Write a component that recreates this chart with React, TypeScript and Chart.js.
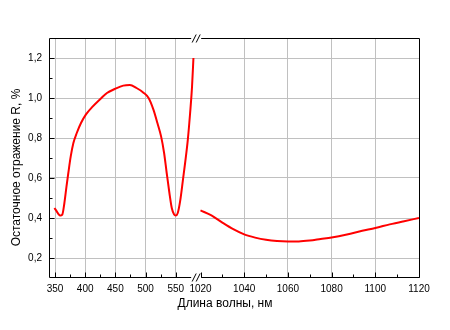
import React, { useEffect, useRef } from "react";
import { Chart, registerables } from "chart.js";

Chart.register(...registerables);

// Visible range (nm) and residual reflectance (%)
const visWavelength = [349, 352.8, 356, 358.5, 362, 365.5, 369, 372, 376, 380.4, 386, 393, 401, 411, 425, 436, 449, 463, 474, 485, 496, 505, 513, 519.6, 525.7, 530.7, 535, 539.5, 543.4, 547.3, 550, 553.3, 557.2, 561.6, 565.5, 570, 573.8, 577, 579.3];
const visReflectance = [0.45, 0.433, 0.418, 0.412, 0.417, 0.475, 0.558, 0.625, 0.708, 0.775, 0.825, 0.875, 0.917, 0.953, 0.995, 1.025, 1.045, 1.062, 1.065, 1.05, 1.028, 1.0, 0.942, 0.875, 0.808, 0.725, 0.625, 0.525, 0.45, 0.417, 0.412, 0.425, 0.483, 0.583, 0.675, 0.792, 0.925, 1.058, 1.2];

// IR range (nm) and residual reflectance (%)
const irWavelength = [1020, 1025, 1030, 1035, 1040, 1045, 1050, 1055, 1060, 1065, 1070, 1075, 1080, 1087, 1094, 1100, 1106.6, 1112.7, 1120];
const irReflectance = [0.438, 0.413, 0.377, 0.344, 0.318, 0.302, 0.291, 0.285, 0.283, 0.283, 0.287, 0.295, 0.303, 0.318, 0.336, 0.35, 0.368, 0.383, 0.4];

const xTickLabels = [350, 400, 450, 500, 550, 1020, 1040, 1060, 1080, 1100, 1120];
const xMinorTicks = [375, 425, 475, 525, 1030, 1050, 1070, 1090, 1110];
const xNoGrid = [1020, 1120];
const yTickValues = [0.2, 0.4, 0.6, 0.8, 1.0, 1.2];
const yMinorTicks = [0.3, 0.5, 0.7, 0.9, 1.1];

const X_TITLE = "Длина волны, нм";
const Y_TITLE = "Остаточное отражение R, %";

// Broken axis mapping: 340..580 nm, break, 1020..1120 nm
const LEFT_START = 340;
const LEFT_END = 580;
const RIGHT_START = 1020;
const RIGHT_END = 1120;
const RIGHT_OFFSET = 251;
const RIGHT_SCALE = 3.62;
const toAxis = (w: number) =>
  w < 800 ? w - LEFT_START : RIGHT_OFFSET + (w - RIGHT_START) * RIGHT_SCALE;

const FONT = "'Liberation Sans', Arial, sans-serif";

const framePlugin = {
  id: "frame",
  afterDraw(chart: any) {
    const { ctx, chartArea, scales } = chart;
    const x = scales.x;
    const y = scales.y;
    const L = Math.round(chartArea.left) + 0.5;
    const R = Math.round(chartArea.right) + 0.5;
    const T = Math.round(chartArea.top) + 0.5;
    const B = Math.round(chartArea.bottom) - 0.5;
    const bc =
      (x.getPixelForValue(toAxis(LEFT_END)) + x.getPixelForValue(toAxis(RIGHT_START))) / 2;
    const g0 = bc - 6;
    const g1 = bc + 4;
    ctx.save();
    ctx.strokeStyle = "#000";
    ctx.lineWidth = 1;
    ctx.beginPath();
    ctx.moveTo(L, T);
    ctx.lineTo(L, B);
    ctx.moveTo(R, T);
    ctx.lineTo(R, B);
    ctx.moveTo(L, T);
    ctx.lineTo(g0, T);
    ctx.moveTo(g1, T);
    ctx.lineTo(R, T);
    ctx.moveTo(L, B);
    ctx.lineTo(g0, B);
    ctx.moveTo(g1, B);
    ctx.lineTo(R, B);
    ctx.stroke();

    // break marks
    ctx.beginPath();
    for (const yy of [T, B]) {
      for (const c of [bc - 3, bc + 1]) {
        ctx.moveTo(c - 2, yy + 4);
        ctx.lineTo(c + 2, yy - 4);
      }
    }
    ctx.stroke();

    // inward tick marks
    ctx.beginPath();
    for (const v of xTickLabels) {
      const px = Math.round(x.getPixelForValue(toAxis(v))) + 0.5;
      ctx.moveTo(px, B);
      ctx.lineTo(px, B - 5);
    }
    for (const v of xMinorTicks) {
      const px = Math.round(x.getPixelForValue(toAxis(v))) + 0.5;
      ctx.moveTo(px, B);
      ctx.lineTo(px, B - 3);
    }
    for (const v of yTickValues) {
      const py = Math.round(y.getPixelForValue(v)) + 0.5;
      ctx.moveTo(L, py);
      ctx.lineTo(L + 5, py);
    }
    for (const v of yMinorTicks) {
      const py = Math.round(y.getPixelForValue(v)) + 0.5;
      ctx.moveTo(L, py);
      ctx.lineTo(L + 3, py);
    }
    ctx.stroke();

    // axis titles
    ctx.fillStyle = "#000";
    ctx.font = `12px ${FONT}`;
    ctx.textAlign = "center";
    ctx.textBaseline = "middle";
    ctx.fillText(X_TITLE, chartArea.left + 176, 304);
    ctx.translate(17, chartArea.top + 129.5);
    ctx.rotate(-Math.PI / 2);
    ctx.fillText(Y_TITLE, 0, 0);
    ctx.restore();
  },
};

export default function App() {
  const canvasRef = useRef<HTMLCanvasElement | null>(null);

  useEffect(() => {
    const canvas = canvasRef.current;
    if (!canvas) return;
    const lineStyle = {
      borderColor: "#ff0000",
      borderWidth: 2,
      pointRadius: 0,
      fill: false,
      cubicInterpolationMode: "monotone" as const,
    };
    const chart = new Chart(canvas, {
      type: "line",
      data: {
        datasets: [
          {
            ...lineStyle,
            label: "vis",
            data: visWavelength.map((w, i) => ({ x: toAxis(w), y: visReflectance[i] })),
          },
          {
            ...lineStyle,
            label: "ir",
            data: irWavelength.map((w, i) => ({ x: toAxis(w), y: irReflectance[i] })),
          },
        ],
      },
      options: {
        animation: false,
        responsive: false,
        devicePixelRatio: 1,
        layout: { padding: { top: 38, right: 31, left: 0, bottom: 0 } },
        plugins: {
          legend: { display: false },
          tooltip: { enabled: false },
        },
        scales: {
          x: {
            type: "linear",
            min: 0,
            max: toAxis(RIGHT_END),
            afterBuildTicks: (s: any) => {
              s.ticks = xTickLabels.map((v) => ({ value: toAxis(v) }));
            },
            afterFit: (s: any) => {
              s.height = 52;
            },
            ticks: {
              autoSkip: false,
              maxRotation: 0,
              padding: 5,
              color: "#000",
              font: { family: FONT, size: 10 },
              callback: (_v: any, i: number) => String(xTickLabels[i]),
            },
            grid: {
              drawTicks: false,
              lineWidth: 1,
              color: (c: any) =>
                xNoGrid.includes(xTickLabels[c.index]) ? "rgba(0,0,0,0)" : "#c0c0c0",
            },
            border: { display: false },
            title: { display: false, text: X_TITLE },
          },
          y: {
            type: "linear",
            min: 0.1,
            max: 1.3,
            afterBuildTicks: (s: any) => {
              s.ticks = yTickValues.map((v) => ({ value: v }));
            },
            afterFit: (s: any) => {
              s.width = 49;
            },
            ticks: {
              padding: 7,
              color: "#000",
              font: { family: FONT, size: 10 },
              callback: (v: any) => Number(v).toFixed(1).replace(".", ","),
            },
            grid: { drawTicks: false, lineWidth: 1, color: "#c0c0c0" },
            border: { display: false },
            title: { display: false, text: Y_TITLE },
          },
        },
      },
      plugins: [framePlugin],
    });
    return () => chart.destroy();
  }, []);

  return (
    <div style={{ position: "absolute", left: 0, top: 0, width: 450, height: 330, background: "#fff" }}>
      <canvas ref={canvasRef} width={450} height={330} style={{ display: "block" }} />
    </div>
  );
}
